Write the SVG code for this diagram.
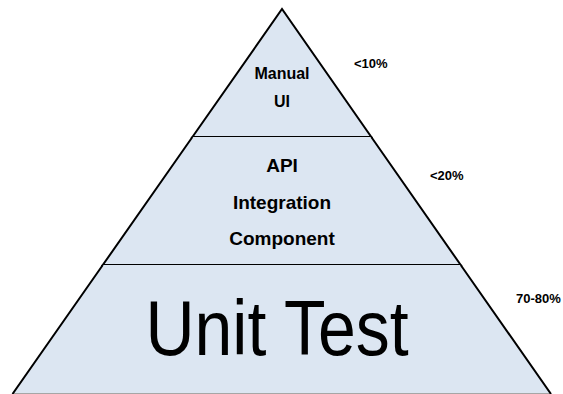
<svg xmlns="http://www.w3.org/2000/svg" width="563" height="394" viewBox="0 0 563 394">
  <style>
    .tier { fill: #dce6f2; stroke: none; }
    .edge { fill: none; stroke: #000; stroke-width: 2; stroke-linejoin: miter; }
    .label { font-family: "Liberation Sans", Arial, sans-serif; font-weight: bold; fill: #000; text-anchor: middle; }
    .share { font-family: "Liberation Sans", Arial, sans-serif; font-weight: bold; font-size: 13px; fill: #000; }
    .big { font-family: "Liberation Sans", Arial, sans-serif; font-size: 66px; fill: #000; text-anchor: middle; }
  </style>
  <rect width="563" height="394" fill="#fff"/>

  <!-- top tier -->
  <g id="tier-manual-ui">
    <polygon class="tier" points="282,9 371.3,137 192.4,137"/>
    <path class="edge" d="M192.4,137 L282,9 L371.3,137 Z"/>
    <text class="label" font-size="16" x="282" y="79">Manual</text>
    <text class="label" font-size="16" x="282" y="107">UI</text>
  </g>

  <!-- middle tier -->
  <g id="tier-api-integration">
    <polygon class="tier" points="192.4,137 371.3,137 460.7,265 102.8,265"/>
    <path class="edge" d="M192.4,137 L102.8,265 L460.7,265 L371.3,137"/>
    <text class="label" font-size="19" x="282" y="172">API</text>
    <text class="label" font-size="19" x="282" y="209">Integration</text>
    <text class="label" font-size="19" x="282" y="245">Component</text>
  </g>

  <!-- base tier -->
  <g id="tier-unit-test">
    <polygon class="tier" points="102.8,265 460.7,265 551,394 12,394"/>
    <line x1="12" y1="393.5" x2="551" y2="393.5" stroke="#a6a6a6" stroke-width="1"/>
    <path class="edge" d="M102.8,265 L12.5,394 M460.7,265 L551,394"/>
    <!-- slightly condensed face: stretch vertically about the baseline -->
    <text class="big" transform="translate(277,355) scale(1.03,1.17)" x="0" y="0">Unit Test</text>
  </g>

  <!-- share labels -->
  <g id="shares">
    <text class="share" x="354" y="68">&lt;10%</text>
    <text class="share" x="430" y="180">&lt;20%</text>
    <text class="share" x="516" y="303">70-80%</text>
  </g>
</svg>
